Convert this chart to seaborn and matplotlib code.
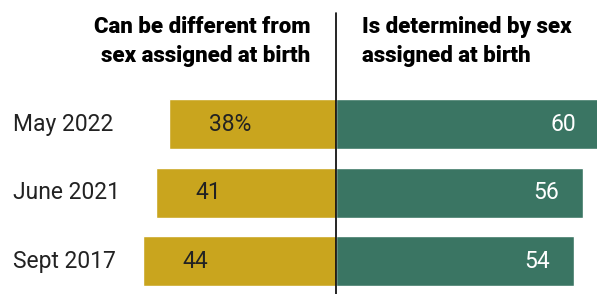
import pandas as pd
import matplotlib.pyplot as plt
import seaborn as sns

# Survey waves and shares (%)
surveys = ['May 2022', 'June 2021', 'Sept 2017']
can_differ = [38, 41, 44]
determined = [60, 56, 54]
left_labels = ['38%', '41', '44']
right_labels = ['60', '56', '54']

gold = '#C9A51E'
teal = '#3A7563'

sns.set_theme(style='white')
plt.rcParams['font.family'] = ['Roboto', 'DejaVu Sans']

df = pd.DataFrame({
    'survey': surveys * 2,
    'value': [-v for v in can_differ] + determined,
    'side': ['Can be different'] * 3 + ['Is determined'] * 3,
})

fig = plt.figure(figsize=(5.97, 2.94), dpi=100)
ax = fig.add_axes([0, 0, 1, 1])

sns.barplot(data=df, y='survey', x='value', hue='side', order=surveys,
            palette={'Can be different': gold, 'Is determined': teal},
            dodge=False, width=0.73, saturation=1, legend=False, ax=ax)

ax.set_xlim(-76.4, 59.2)
ax.set_ylim(2.48, -1.81)
ax.axis('off')

# center divider
ax.plot([0, 0], [-1.625, 2.48], color='black', lw=1.2, zorder=5)

for i, s in enumerate(surveys):
    ax.text(-73.4, i, s, ha='left', va='center', fontsize=16.5, color='#222222')
    ax.text(-can_differ[i] + 9, i, left_labels[i], ha='left', va='center',
            fontsize=16.5, color='#222222')
    ax.text(determined[i] - 5.5, i, right_labels[i], ha='right', va='center',
            fontsize=16.5, color='white')

ax.text(-5.9, -1.21, 'Can be different from\nsex assigned at birth', ha='right',
        va='center', fontsize=16, fontweight='heavy', color='black', linespacing=1.4)
ax.text(5.9, -1.21, 'Is determined by sex\nassigned at birth', ha='left',
        va='center', fontsize=16, fontweight='heavy', color='black', linespacing=1.4)

fig.savefig('out.png', dpi=100)
